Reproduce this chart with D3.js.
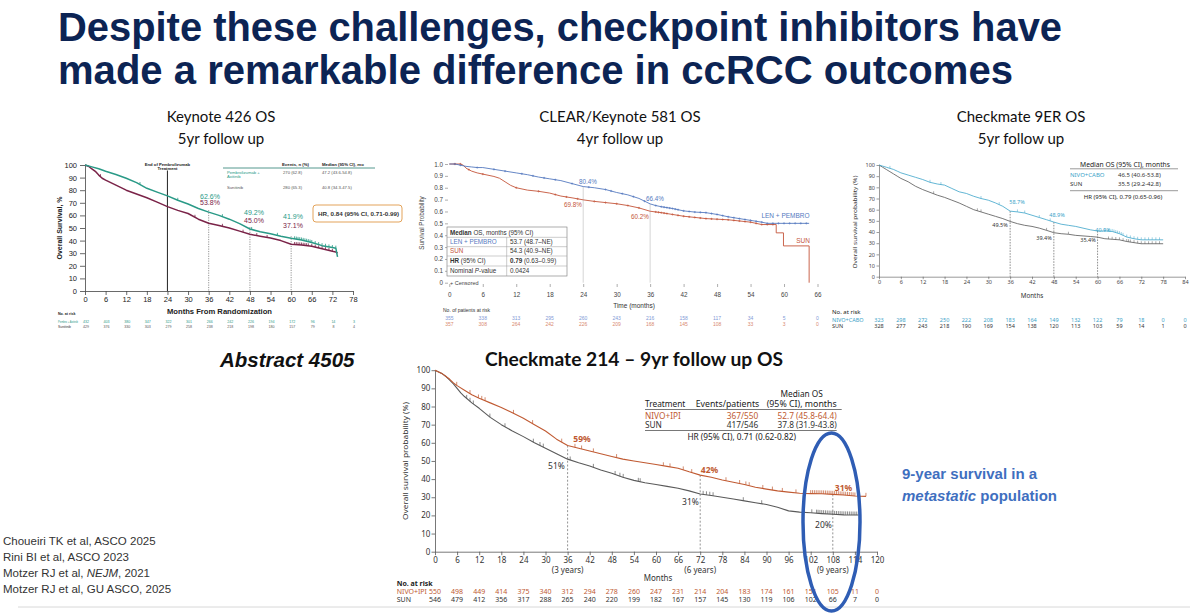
<!DOCTYPE html>
<html><head><meta charset="utf-8">
<script src="https://cdn.jsdelivr.net/npm/d3@7"></script>
<style>body{margin:0;background:#fff;}svg{display:block;}</style>
</head><body>
<script>
// ================= DATA =================
const titleLines = ["Despite these challenges, checkpoint inhibitors have", "made a remarkable difference in ccRCC outcomes"];
const panelTitles = [["Keynote 426 OS","5yr follow up"],["CLEAR/Keynote 581 OS","4yr follow up"],["Checkmate 9ER OS","5yr follow up"]];
const references = ["Choueiri TK et al, ASCO 2025","Rini BI et al, ASCO 2023","Motzer RJ et al, |NEJM|, 2021","Motzer RJ et al, GU ASCO, 2025"];

// ---- Keynote 426 ----
const kn_xTicks = [0,6,12,18,24,30,36,42,48,54,60,66,72,78];
const kn_yTicks = [0,10,20,30,40,50,60,70,80,90,100];
const kn_pembroT = [0,2,4,6,9,12,15,18,21,24,27,30,33,36,39,42,45,48,51,54,57,60,63,66,69,72,73,73.5];
const kn_pembroS = [100,98.5,97,95,92.5,89.5,86,81.5,78.5,75.5,72,69,65.5,62.6,60,57,53.5,49.2,47,45.5,43.5,41.9,40.5,38.5,36,34.5,34,27];
const kn_sunT = [0,1,2,3,4,5,6,9,12,15,18,21,24,27,30,33,36,39,42,45,48,51,54,57,60,63,66,69,72,73,73.5];
const kn_sunS = [100,99,97,95,92,89.5,88,84,80,77,74,70.5,67,64,61.5,57,53.8,52,50,47.5,45,43.5,42,40,37.1,36.5,35.5,33.5,31.5,31,30];
const kn_pembroCens = [16,27,40,48.5,56,61,61.5,62,62.5,63,63.5,64,64.5,65,65.5,66,67,68,69,70,71,72,73];
const kn_sunCens = [4.5,32,40,46,50,53,61,61.5,62,62.5,63,63.5,64,64.5,65,66,67,68,69,70,71,72];
const kn_landmarks = [36,48,60];
const kn_pembroLabels = ["62.6%","49.2%","41.9%"];
const kn_sunLabels = ["53.8%","45.0%","37.1%"];
const kn_riskPembro = [432,403,380,347,322,301,266,242,226,194,172,96,14,3];
const kn_riskSun = [429,376,330,303,279,258,238,218,198,180,157,79,8,4];

// ---- CLEAR ----
const cl_xTicks = [0,6,12,18,24,30,36,42,48,54,60,66];
const cl_yTicks = [0,0.1,0.2,0.3,0.4,0.5,0.6,0.7,0.8,0.9,1.0];
const cl_yLabels = ["0","0.1","0.2","0.3","0.4","0.5","0.6","0.7","0.8","0.9","1.0"];
const cl_lenT = [0,1,2,3,4,5,6,8,10,12,14,16,18,20,22,24,26,28,30,32,34,36,37,38,40,42,44,46,48,50,52,54,56,57,58,60,62,64.5];
const cl_lenS = [1,1,0.99,0.98,0.975,0.97,0.97,0.955,0.94,0.925,0.91,0.89,0.875,0.86,0.835,0.81,0.80,0.785,0.76,0.74,0.71,0.664,0.65,0.64,0.625,0.605,0.595,0.59,0.575,0.555,0.54,0.525,0.51,0.50,0.50,0.50,0.50,0.50];
const cl_sunT = [0,1,2,2.5,3,4,5,6,8,9,10,11,12,14,16,18,20,22,24,26,28,30,32,34,36,38,40,42,44,46,48,50,52,54,56,58.6,58.6,59.9,59.9,64.5,64.5];
const cl_sunS = [1,1,1,0.99,0.965,0.94,0.925,0.915,0.895,0.88,0.85,0.82,0.80,0.78,0.77,0.755,0.73,0.715,0.698,0.685,0.675,0.665,0.65,0.63,0.602,0.59,0.575,0.56,0.55,0.54,0.535,0.53,0.52,0.51,0.49,0.49,0.42,0.42,0.31,0.31,0];
const cl_lenCens = [1,2,5,8,10,13,15,17,19,22,25,28,29,31,33,35,37,38,38.5,39,39.5,40,40.5,41,42,43,44,45,46,47,48,49,50,51,52,53,54,55,56,57,58,59,60,61,62,63,64];
const cl_sunCens = [1,2,3.5,6,12,16,19,21,23,26,28,30,32,34,37,37.5,38,38.5,39,40,41,42,43,44,45,46,47,48,49,50,51,52,53,54,55,56,57,58];
const cl_landmarks = [24,36];
const cl_lenLabels = ["80.4%","66.4%"];
const cl_sunLabels = ["69.8%","60.2%"];
const cl_riskLen = [355,338,313,295,260,243,216,158,117,34,5,0];
const cl_riskSun = [357,308,264,242,226,209,168,145,108,33,3,0];
const cl_tableRows = [["LEN + PEMBRO","53.7 (48.7–NE)"],["SUN","54.3 (40.9–NE)"],["HR (95% CI)","0.79 (0.63–0.99)"],["Nominal P-value","0.0424"]];

// ---- Checkmate 9ER ----
const er_xTicks = [0,6,12,18,24,30,36,42,48,54,60,66,72,78,84];
const er_yTicks = [0,10,20,30,40,50,60,70,80,90,100];
const er_nivoT = [0,1,2,3,4,5,6,8,10,12,14,16,18,20,22,24,26,28,30,32,34,36,38,40,42,44,46,48,50,52,54,56,58,60,62,64,66,67,68,70,72,75,78];
const er_nivoS = [100,99,98,97,96,94.5,93,91,89,87,84.5,83,82,79,76,74.5,72,70,68.5,66,63,58.7,58,57,55,53,51,48.9,47,46,45,43.5,42,40.9,41,40.5,38.5,37,35.5,34,33,33,33];
const er_sunT = [0,1,2,3,4,5,6,8,10,12,14,16,18,20,22,24,26,28,30,32,34,36,38,40,42,44,46,48,50,52,54,56,58,60,62,64,66,68,70,72,75,78];
const er_sunS = [100,98,96,94,92,90,88,85,81,78,75.5,73,71,68.5,66,63,60,58,56,54,52,49.5,47.5,46,45,43.5,41.5,39.4,38.5,38,37,36.5,36,35.4,34,33.5,33,31.5,30.5,29.5,29.5,29.5];
const er_nivoCens = [3,14,17,28,33,38,40,44,47,62,63,64,64.5,65,65.5,66,66.5,67,68,69,70,71,72,73,74,75,76,77];
const er_sunCens = [15,27,28,46,52,63,64,65,66,67,68,68.5,69,70,71,72,73,74,75,76,77];
const er_landmarks = [36,48,60];
const er_nivoLabels = ["58.7%","48.9%","40.9%"];
const er_sunLabels = ["49.5%","39.4%","35.4%"];
const er_riskNivo = [323,298,272,250,222,208,183,164,149,132,122,79,18,0,0];
const er_riskSun = [328,277,243,218,190,169,154,138,120,113,103,59,14,1,0];
const er_table = [["NIVO+CABO","46.5 (40.6-53.8)"],["SUN","35.5 (29.2-42.8)"]];

// ---- Checkmate 214 ----
const cm_xTicks = [0,6,12,18,24,30,36,42,48,54,60,66,72,78,84,90,96,102,108,114,120];
const cm_xLabels = ["0","6","12","18","24","30","36","42","48","54","60","66","72","78","84","90","96","102","108","114","120"];
const cm_yTicks = [0,10,20,30,40,50,60,70,80,90,100];
const cm_nivoT = [0,1,2,3,4,5,6,8,10,12,15,18,21,24,27,30,33,36,39,42,45,48,51,54,57,60,63,66,69,72,75,78,81,84,87,90,93,96,99,102,105,108,111,114,117];
const cm_nivoS = [100,99,98,96.5,95,93,91.5,89,86.5,84.5,82,79.5,76.5,73.5,70,66.5,62,58.5,57,55.5,54,52.5,51,50,49,48,47,46,44,42.2,41,39.5,38.3,37,35.5,34.5,33.5,32.8,32.2,32,31.9,31.6,31.2,30.7,30.5];
const cm_sunT = [0,1,2,3,4,5,6,7,8,10,12,15,18,21,24,27,30,33,36,39,42,45,48,51,54,57,60,63,66,69,72,75,78,81,84,87,90,93,96,99,102,105,108,111,114,115];
const cm_sunS = [100,99,98,96.5,94.5,92.5,90,87.5,85.5,82,79,74,70,66.5,63.4,60,57,54,51,49,47.2,45,43.2,41,39.3,38,37,36,35,33.5,31.8,31,30,29,28,27,26,24.5,22.5,21.8,21.5,21,20.6,20.3,20.2,20.2];
const cm_nivoCens = [5.9,9.5,11.8,12.7,13.6,21.3,26.5,34.4,38,39.8,43,49.3,62,63.8,67.4,69.7,79,82.7,84.4,85.3,89,91.6,94.3,98,102,102.5,103,103.5,104,104.5,105,105.5,106,106.5,107,107.5,108,108.5,109,109.5,110,110.5,111,111.5,112,112.5,113,113.5,114,117];
const cm_sunCens = [8.6,9.5,10.4,14.9,19,26.7,28.5,29.4,36.7,43,48.9,50.2,51.1,55.2,55.7,72.8,73.7,74.6,75.5,83.7,88.7,102.3,103.6,104,104.5,105,105.5,106,106.5,107,107.5,108,108.5,109,109.5,110,110.5,111,111.5,112,112.5,113,113.5,114,114.5];
const cm_landmarks = [36,72,108];
const cm_yearLabels = ["(3 years)","(6 years)","(9 years)"];
const cm_nivoLabels = ["59%","42%","31%"];
const cm_sunLabels = ["51%","31%","20%"];
const cm_riskNivo = [550,498,449,414,375,340,312,294,278,260,247,231,214,204,183,174,161,151,105,11,0];
const cm_riskSun = [546,479,412,356,317,288,265,240,220,199,182,167,157,145,130,119,106,102,66,7,0];
const cm_table = [["NIVO+IPI","367/550","52.7 (45.8-64.4)"],["SUN","417/546","37.8 (31.9-43.8)"]];

// ================= HELPERS =================
const ARIAL = "'Liberation Sans', Arial, sans-serif";
const MYRIAD = "'Noto Sans', 'Open Sans', sans-serif";
const CAL = "Lato, 'Noto Sans', sans-serif";
const svg = d3.select('body').append('svg').attr('width',1200).attr('height',614);

function T(g, x, y, s, o={}) {
  const t = g.append('text').attr('x',x).attr('y',y).text(s)
    .attr('font-family', o.ff || ARIAL).attr('font-size', o.fs || 10)
    .attr('fill', o.fill || '#222');
  if (o.fw) t.attr('font-weight', o.fw);
  if (o.fst) t.attr('font-style', o.fst);
  if (o.anchor) t.attr('text-anchor', o.anchor);
  if (o.len) t.attr('textLength', o.len).attr('lengthAdjust','spacingAndGlyphs');
  if (o.rot) t.attr('transform', `rotate(${o.rot},${x},${y})`);
  return t;
}
function valAt(Ts, Ss, t) {
  if (t <= Ts[0]) return Ss[0];
  for (let i = 1; i < Ts.length; i++) {
    if (t <= Ts[i]) {
      const t0 = Ts[i-1], t1 = Ts[i];
      if (t1 === t0) return Ss[i];
      return Ss[i-1] + (Ss[i]-Ss[i-1])*(t-t0)/(t1-t0);
    }
  }
  return Ss[Ss.length-1];
}
function curve(g, x, y, Ts, Ss, color, w) {
  const pts = Ts.map((t,i)=>[t, Ss[i]]);
  g.append('path').datum(pts)
    .attr('d', d3.line().x(d=>x(d[0])).y(d=>y(d[1])))
    .attr('fill','none').attr('stroke',color).attr('stroke-width',w).attr('stroke-linejoin','round');
}
function censTicks(g, x, y, Ts, Ss, cens, color, len, w) {
  g.selectAll(null).data(cens).enter().append('line')
    .attr('x1', d=>x(d)).attr('x2', d=>x(d))
    .attr('y1', d=>y(valAt(Ts,Ss,d))).attr('y2', d=>y(valAt(Ts,Ss,d))-len)
    .attr('stroke', color).attr('stroke-width', w);
}
function censPlus(g, x, y, Ts, Ss, cens, color, s) {
  cens.forEach(d => {
    const cx = x(d), cy = y(valAt(Ts,Ss,d));
    g.append('path').attr('d', `M${cx-s},${cy}H${cx+s}M${cx},${cy-s}V${cy+s}`)
      .attr('stroke', color).attr('stroke-width', 0.6);
  });
}
function styleAxis(ax, o) {
  ax.selectAll('text').attr('font-family', o.ff).attr('font-size', o.fs).attr('fill', o.fill || '#333');
  ax.selectAll('line').attr('stroke', o.stroke || '#333').attr('stroke-width', o.sw || 0.8);
  ax.select('.domain').attr('stroke', o.stroke || '#333').attr('stroke-width', o.sw || 0.8);
  if (o.noDomain) ax.select('.domain').remove();
}

// ================= TITLE & TEXT =================
T(svg, 58, 41, titleLines[0], {fs:40, fw:'bold', fill:'#0c2454', len:1004});
T(svg, 58, 84, titleLines[1], {fs:40, fw:'bold', fill:'#0c2454', len:955});
const subX = [221, 620, 1021];
panelTitles.forEach((p,i)=>{
  T(svg, subX[i], 122, p[0], {ff:CAL, fs:15, anchor:'middle', fill:'#111'});
  T(svg, subX[i], 144, p[1], {ff:CAL, fs:15, anchor:'middle', fill:'#111'});
});
T(svg, 220, 367, "Abstract 4505", {fs:20.5, fw:'bold', fst:'italic', fill:'#111'});
T(svg, 485, 366, "Checkmate 214 – 9yr follow up OS", {ff:CAL, fs:18, fw:'bold', fill:'#111', len:298});
references.forEach((r,i)=>{
  const parts = r.split('|');
  const t = svg.append('text').attr('x',3).attr('y',545+i*16).attr('font-family',ARIAL).attr('font-size',11.5).attr('fill','#333');
  parts.forEach((p,j)=>{ t.append('tspan').text(p).attr('font-style', j===1?'italic':null); });
});
svg.append('line').attr('x1',18).attr('x2',1190).attr('y1',607).attr('y2',607).attr('stroke','#d8d8d8').attr('stroke-width',1);
const ann = svg.append('text').attr('x',902).attr('y',479).attr('font-family',ARIAL).attr('font-size',15).attr('font-weight','bold').attr('fill','#3f6fbf');
ann.text("9-year survival in a");
const ann2 = svg.append('text').attr('x',902).attr('y',501).attr('font-family',ARIAL).attr('font-size',15).attr('font-weight','bold').attr('fill','#3f6fbf');
ann2.append('tspan').text("metastatic").attr('font-style','italic');
ann2.append('tspan').text(" population");

// ================= PANEL 1: KEYNOTE 426 =================
{
  const g = svg.append('g');
  const x = d3.scaleLinear().domain([0,78]).range([85,353]);
  const y = d3.scaleLinear().domain([0,100]).range([291,165]);
  const ax = g.append('g').attr('transform','translate(0,291)')
    .call(d3.axisBottom(x).tickValues(kn_xTicks).tickSize(4).tickPadding(2).tickSizeOuter(0));
  styleAxis(ax, {ff:ARIAL, fs:7.5, fill:'#222', stroke:'#444'});
  const ay = g.append('g').attr('transform','translate(85,0)')
    .call(d3.axisLeft(y).tickValues(kn_yTicks).tickSize(5).tickPadding(3).tickSizeOuter(0));
  styleAxis(ay, {ff:ARIAL, fs:7.5, fill:'#222', stroke:'#444'});
  T(g, 62, 228, "Overall Survival, %", {fs:7, fw:'bold', anchor:'middle', rot:-90, fill:'#222'});
  T(g, 219.5, 313.5, "Months From Randomization", {fs:7, fw:'bold', anchor:'middle', len:105, fill:'#222'});
  g.append('line').attr('x1',x(24)).attr('x2',x(24)).attr('y1',170.5).attr('y2',291).attr('stroke','#333').attr('stroke-width',1.1);
  T(g, x(24), 165.5, "End of Pembrolizumab", {fs:4.2, fw:'bold', anchor:'middle'});
  T(g, x(24), 170, "Treatment", {fs:4.2, fw:'bold', anchor:'middle'});
  kn_landmarks.forEach((t,i)=>{
    g.append('line').attr('x1',x(t)).attr('x2',x(t)).attr('y1',y(valAt(kn_pembroT,kn_pembroS,t))-2).attr('y2',291)
      .attr('stroke','#666').attr('stroke-width',0.7).attr('stroke-dasharray','1.2,1.2');
  });
  curve(g, x, y, kn_sunT, kn_sunS, '#7a2348', 1.5);
  curve(g, x, y, kn_pembroT, kn_pembroS, '#2a9a87', 1.5);
  censTicks(g, x, y, kn_sunT, kn_sunS, kn_sunCens, '#7a2348', 2.5, 0.8);
  censTicks(g, x, y, kn_pembroT, kn_pembroS, kn_pembroCens, '#2a9a87', 2.5, 0.8);
  const lx = [210, 254, 293], ly1 = [198.5, 214.5, 219], ly2 = [205, 222.5, 227.5];
  kn_landmarks.forEach((t,i)=>{
    T(g, lx[i], ly1[i], kn_pembroLabels[i], {fs:7, anchor:'middle', fill:'#2a9a87'});
    T(g, lx[i], ly2[i], kn_sunLabels[i], {fs:7, anchor:'middle', fill:'#7a2348'});
  });
  T(g, 282, 165.5, "Events, n (%)", {fs:4.3, fw:'bold'});
  T(g, 322, 165.5, "Median (95% CI), mo", {fs:4.3, fw:'bold'});
  g.append('line').attr('x1',223).attr('x2',375).attr('y1',168).attr('y2',168).attr('stroke','#2a7f72').attr('stroke-width',0.8);
  T(g, 227, 173.5, "Pembrolizumab +", {fs:4.2, fill:'#2a9a87'});
  T(g, 227, 177.8, "Axitinib", {fs:4.2, fill:'#2a9a87'});
  T(g, 283, 173.5, "270 (62.8)", {fs:4.2, fill:'#555'});
  T(g, 322, 173.5, "47.2 (43.6-54.8)", {fs:4.2, fill:'#555'});
  T(g, 227, 188.5, "Sunitinib", {fs:4.2, fill:'#555'});
  T(g, 283, 188.5, "280 (65.3)", {fs:4.2, fill:'#555'});
  T(g, 322, 188.5, "40.8 (34.3-47.5)", {fs:4.2, fill:'#555'});
  g.append('rect').attr('x',313).attr('y',205).attr('width',89).attr('height',17).attr('rx',3)
    .attr('fill','#fff').attr('stroke','#e3a35a').attr('stroke-width',1);
  T(g, 318, 216, "HR, 0.84 (95% CI, 0.71-0.99)", {fs:6, fw:'bold', len:81, fill:'#333'});
  T(g, 58, 314.5, "No. at risk", {fs:3.6, fw:'bold'});
  T(g, 58, 322.5, "Pembro + Axitinib", {fs:3.2, fill:'#2a9a87', len:20});
  T(g, 58, 327.5, "Sunitinib", {fs:3.4, fill:'#333'});
  kn_xTicks.forEach((t,i)=>{
    T(g, x(t)+1, 322.5, kn_riskPembro[i], {fs:3.6, anchor:'middle', fill:'#2a9a87'});
    T(g, x(t)+1, 327.5, kn_riskSun[i], {fs:3.6, anchor:'middle', fill:'#555'});
  });
}

// ================= PANEL 2: CLEAR =================
{
  const g = svg.append('g');
  const BLUE = '#5579c0', RED = '#c4553a';
  const x = d3.scaleLinear().domain([0,66]).range([449.3,817.5]);
  const y = d3.scaleLinear().domain([0,1]).range([282.7,164]);
  const ax = g.append('g').attr('transform','translate(0,284)')
    .call(d3.axisBottom(x).tickValues(cl_xTicks).tickSize(3).tickPadding(6).tickSizeOuter(0));
  styleAxis(ax, {ff:ARIAL, fs:6.3, fill:'#444', stroke:'#777', sw:0.6, noDomain:true});
  const ay = g.append('g').attr('transform','translate(448,0)')
    .call(d3.axisLeft(y).tickValues(cl_yTicks).tickFormat((d,i)=>cl_yLabels[i]).tickSize(3).tickPadding(2).tickSizeOuter(0));
  styleAxis(ay, {ff:ARIAL, fs:6.3, fill:'#444', stroke:'#777', sw:0.6, noDomain:true});
  T(g, 423.5, 223, "Survival Probability", {fs:6.3, anchor:'middle', rot:-90, fill:'#444'});
  T(g, 634, 308, "Time (months)", {fs:6.5, anchor:'middle', fill:'#333'});
  cl_landmarks.forEach(t=>{
    g.append('line').attr('x1',x(t)).attr('x2',x(t)).attr('y1',y(valAt(cl_lenT,cl_lenS,t))).attr('y2',282.7)
      .attr('stroke','#bbb').attr('stroke-width',0.6);
  });
  curve(g, x, y, cl_sunT, cl_sunS, RED, 0.9);
  curve(g, x, y, cl_lenT, cl_lenS, BLUE, 0.9);
  censPlus(g, x, y, cl_sunT, cl_sunS, cl_sunCens, RED, 1.1);
  censPlus(g, x, y, cl_lenT, cl_lenS, cl_lenCens, BLUE, 1.1);
  T(g, 588, 184, cl_lenLabels[0], {fs:6.3, anchor:'middle', fill:BLUE});
  T(g, 573, 206.5, cl_sunLabels[0], {fs:6.3, anchor:'middle', fill:RED});
  T(g, 655, 200.5, cl_lenLabels[1], {fs:6.3, anchor:'middle', fill:BLUE});
  T(g, 640, 218.5, cl_sunLabels[1], {fs:6.3, anchor:'middle', fill:RED});
  T(g, 785.5, 218, "LEN + PEMBRO", {fs:6.5, anchor:'middle', fill:BLUE});
  T(g, 803, 242.5, "SUN", {fs:6.5, anchor:'middle', fill:RED});
  const tx0 = 447, tx1 = 567, tcol = 506.7;
  const rowY = [227, 237.3, 246.7, 256, 266, 276];
  g.append('rect').attr('x',tx0).attr('y',rowY[0]).attr('width',tx1-tx0).attr('height',rowY[5]-rowY[0])
    .attr('fill','#fff').attr('stroke','#777').attr('stroke-width',0.6);
  rowY.slice(1,5).forEach(yy=>g.append('line').attr('x1',tx0).attr('x2',tx1).attr('y1',yy).attr('y2',yy).attr('stroke','#999').attr('stroke-width',0.5));
  g.append('line').attr('x1',tcol).attr('x2',tcol).attr('y1',rowY[1]).attr('y2',rowY[5]).attr('stroke','#999').attr('stroke-width',0.5);
  const h = g.append('text').attr('x',450).attr('y',234.5).attr('font-family',ARIAL).attr('font-size',6.3).attr('fill','#333');
  h.append('tspan').text("Median").attr('font-weight','bold'); h.append('tspan').text(" OS, months (95% CI)");
  const rc = [BLUE, RED, '#333', '#333'];
  cl_tableRows.forEach((r,i)=>{
    const yy = rowY[i+2]-2.6;
    if (i===2) {
      const a = g.append('text').attr('x',450).attr('y',yy).attr('font-family',ARIAL).attr('font-size',6.3).attr('fill','#333');
      a.append('tspan').text("HR").attr('font-weight','bold'); a.append('tspan').text(" (95% CI)");
      const b = g.append('text').attr('x',510).attr('y',yy).attr('font-family',ARIAL).attr('font-size',6.3).attr('fill','#333');
      b.append('tspan').text("0.79").attr('font-weight','bold'); b.append('tspan').text(" (0.63–0.99)");
    } else if (i===3) {
      const a = g.append('text').attr('x',450).attr('y',yy).attr('font-family',ARIAL).attr('font-size',6.3).attr('fill','#333');
      a.append('tspan').text("Nominal "); a.append('tspan').text("P").attr('font-style','italic'); a.append('tspan').text("-value");
      T(g, 510, yy, r[1], {fs:6.3, fill:'#333'});
    } else {
      T(g, 450, yy, r[0], {fs:6.3, fill:rc[i]});
      T(g, 510, yy, r[1], {fs:6.3, fill:'#333'});
    }
  });
  T(g, 450, 285, "+ Censored", {fs:5.5, fill:'#444'});
  T(g, 443, 312, "No. of patients at risk", {fs:5, fill:'#333'});
  cl_xTicks.forEach((t,i)=>{
    T(g, x(t), 319.5, cl_riskLen[i], {fs:5, anchor:'middle', fill:'#7f9ad6'});
    T(g, x(t), 326, cl_riskSun[i], {fs:5, anchor:'middle', fill:'#d88a70'});
  });
}

// ================= PANEL 3: CHECKMATE 9ER =================
{
  const g = svg.append('g');
  const TEAL = '#3ba3c9', GRAY = '#555';
  const x = d3.scaleLinear().domain([0,84]).range([879,1185]);
  const y = d3.scaleLinear().domain([0,100]).range([276.7,165]);
  const ax = g.append('g').attr('transform','translate(0,276.7)')
    .call(d3.axisBottom(x).tickValues(er_xTicks).tickSize(2.5).tickPadding(1).tickSizeOuter(0));
  styleAxis(ax, {ff:MYRIAD, fs:5.5, fill:'#444', stroke:'#555', sw:0.6});
  const ay = g.append('g').attr('transform','translate(879,0)')
    .call(d3.axisLeft(y).tickValues(er_yTicks).tickSize(2.5).tickPadding(1.5).tickSizeOuter(0));
  styleAxis(ay, {ff:MYRIAD, fs:5.5, fill:'#444', stroke:'#555', sw:0.6});
  T(g, 856.5, 222, "Overall survival probability (%)", {ff:MYRIAD, fs:6, anchor:'middle', rot:-90, fill:'#333', len:93});
  T(g, 1032, 298, "Months", {ff:MYRIAD, fs:6.3, anchor:'middle', fill:'#333'});
  er_landmarks.forEach(t=>{
    g.append('line').attr('x1',x(t)).attr('x2',x(t)).attr('y1',y(valAt(er_nivoT,er_nivoS,t))).attr('y2',276.7)
      .attr('stroke','#444').attr('stroke-width',0.6).attr('stroke-dasharray','1.6,1.2');
  });
  curve(g, x, y, er_sunT, er_sunS, GRAY, 0.8);
  curve(g, x, y, er_nivoT, er_nivoS, TEAL, 0.8);
  censTicks(g, x, y, er_sunT, er_sunS, er_sunCens, GRAY, 2.5, 0.5);
  censTicks(g, x, y, er_nivoT, er_nivoS, er_nivoCens, TEAL, 2.5, 0.5);
  const nx = [1017, 1057, 1103], ny = [204, 217, 232], sx = [1000, 1044, 1088], sy = [227, 240, 242];
  er_landmarks.forEach((t,i)=>{
    T(g, nx[i], ny[i], er_nivoLabels[i], {ff:MYRIAD, fs:5.5, anchor:'middle', fill:TEAL});
    T(g, sx[i], sy[i], er_sunLabels[i], {ff:MYRIAD, fs:5.5, anchor:'middle', fill:'#333'});
  });
  T(g, 1125, 166.5, "Median OS (95% CI), months", {ff:MYRIAD, fs:6.3, anchor:'middle', fill:'#222', len:90});
  g.append('line').attr('x1',1070).attr('x2',1178).attr('y1',168.8).attr('y2',168.8).attr('stroke','#555').attr('stroke-width',0.6);
  er_table.forEach((r,i)=>{
    T(g, 1070, 177+i*9, r[0], {ff:MYRIAD, fs:6, fill: i===0?TEAL:'#333'});
    T(g, 1118, 177+i*9, r[1], {ff:MYRIAD, fs:6, fill:'#333'});
  });
  g.append('line').attr('x1',1070).attr('x2',1178).attr('y1',190.7).attr('y2',190.7).attr('stroke','#555').attr('stroke-width',0.6);
  T(g, 1123, 199, "HR (95% CI), 0.79 (0.65-0.96)", {ff:MYRIAD, fs:6, anchor:'middle', fill:'#222'});
  T(g, 832, 314, "No. at risk", {ff:MYRIAD, fs:6, fill:'#222'});
  T(g, 832, 321.5, "NIVO+CABO", {ff:MYRIAD, fs:5.5, fill:TEAL});
  T(g, 832, 328, "SUN", {ff:MYRIAD, fs:5.5, fill:'#333'});
  er_xTicks.forEach((t,i)=>{
    T(g, x(t), 321.5, er_riskNivo[i], {ff:MYRIAD, fs:5.5, anchor:'middle', fill:TEAL});
    T(g, x(t), 328, er_riskSun[i], {ff:MYRIAD, fs:5.5, anchor:'middle', fill:'#333'});
  });
}

// ================= PANEL 4: CHECKMATE 214 =================
{
  const g = svg.append('g');
  const OR = '#c05a32', GR = '#5a5a5a';
  const x = d3.scaleLinear().domain([0,120]).range([435,877]);
  const y = d3.scaleLinear().domain([0,100]).range([551.7,370.2]);
  const ax = g.append('g').attr('transform','translate(0,551.7)')
    .call(d3.axisBottom(x).tickValues(cm_xTicks).tickFormat((d,i)=>cm_xLabels[i]).tickSize(3.5).tickPadding(2).tickSizeOuter(0));
  styleAxis(ax, {ff:MYRIAD, fs:8, fill:'#333', stroke:'#555', sw:0.8});
  const ay = g.append('g').attr('transform','translate(435,0)')
    .call(d3.axisLeft(y).tickValues(cm_yTicks).tickSize(3.5).tickPadding(1.2).tickSizeOuter(0));
  styleAxis(ay, {ff:MYRIAD, fs:8, fill:'#333', stroke:'#555', sw:0.8});
  T(g, 407.5, 461, "Overall survival probability (%)", {ff:MYRIAD, fs:7.5, anchor:'middle', rot:-90, fill:'#333', len:118});
  cm_landmarks.forEach((t,i)=>{
    T(g, x(t), 572.5, cm_yearLabels[i], {ff:MYRIAD, fs:8, anchor:'middle', fill:'#333'});
    g.append('line').attr('x1',x(t)).attr('x2',x(t)).attr('y1',y(valAt(cm_nivoT,cm_nivoS,t))).attr('y2',551.7)
      .attr('stroke','#888').attr('stroke-width',0.9).attr('stroke-dasharray','2,1.8');
  });
  T(g, 658, 580.5, "Months", {ff:MYRIAD, fs:8, anchor:'middle', fill:'#333'});
  curve(g, x, y, cm_sunT, cm_sunS, GR, 1.1);
  curve(g, x, y, cm_nivoT, cm_nivoS, OR, 1.1);
  censTicks(g, x, y, cm_sunT, cm_sunS, cm_sunCens, GR, 3.5, 0.7);
  censTicks(g, x, y, cm_nivoT, cm_nivoS, cm_nivoCens, OR, 3.5, 0.7);
  const nx = [582, 709.5, 843.5], ny = [442, 473, 490.5], sx = [556.5, 690.5, 823.5], sy = [468.5, 505, 527.5];
  cm_landmarks.forEach((t,i)=>{
    T(g, nx[i], ny[i], cm_nivoLabels[i], {ff:MYRIAD, fs:8.5, fw:'bold', anchor:'middle', fill:OR});
    T(g, sx[i], sy[i], cm_sunLabels[i], {ff:MYRIAD, fs:8.5, anchor:'middle', fill:'#333'});
  });
  T(g, 801.7, 397, "Median OS", {ff:MYRIAD, fs:8.3, anchor:'middle', fill:'#222'});
  T(g, 645, 407, "Treatment", {ff:MYRIAD, fs:8.3, fill:'#222'});
  T(g, 695.7, 407, "Events/patients", {ff:MYRIAD, fs:8.3, fill:'#222', len:63.6});
  T(g, 766.7, 407, "(95% CI), months", {ff:MYRIAD, fs:8.3, fill:'#222', len:70});
  g.append('line').attr('x1',645).attr('x2',841.7).attr('y1',409.5).attr('y2',409.5).attr('stroke','#555').attr('stroke-width',0.8);
  cm_table.forEach((r,i)=>{
    const c = i===0 ? OR : '#333';
    const yy = 418.5 + i*9.5;
    T(g, 645, yy, r[0], {ff:MYRIAD, fs:8.3, fill:c});
    T(g, 758.3, yy, r[1], {ff:MYRIAD, fs:8.3, fill:c, anchor:'end'});
    T(g, 836.7, yy, r[2], {ff:MYRIAD, fs:8.3, fill:c, anchor:'end'});
  });
  g.append('line').attr('x1',645).attr('x2',836.7).attr('y1',430.5).attr('y2',430.5).attr('stroke','#555').attr('stroke-width',0.8);
  T(g, 741.7, 440, "HR (95% CI), 0.71 (0.62-0.82)", {ff:MYRIAD, fs:8.3, anchor:'middle', fill:'#222'});
  T(g, 396.7, 586, "No. at risk", {ff:MYRIAD, fs:7, fw:'bold', fill:'#222'});
  T(g, 396.7, 593.5, "NIVO+IPI", {ff:MYRIAD, fs:7, fill:OR});
  T(g, 396.7, 602, "SUN", {ff:MYRIAD, fs:7, fill:'#333'});
  cm_xTicks.forEach((t,i)=>{
    T(g, x(t), 593.5, cm_riskNivo[i], {ff:MYRIAD, fs:7, anchor:'middle', fill:OR});
    T(g, x(t), 602, cm_riskSun[i], {ff:MYRIAD, fs:7, anchor:'middle', fill:'#333'});
  });
  g.append('ellipse').attr('cx',831.5).attr('cy',522).attr('rx',28.5).attr('ry',89)
    .attr('fill','none').attr('stroke','#2f5db4').attr('stroke-width',3.5);
}
</script>
</body></html>
